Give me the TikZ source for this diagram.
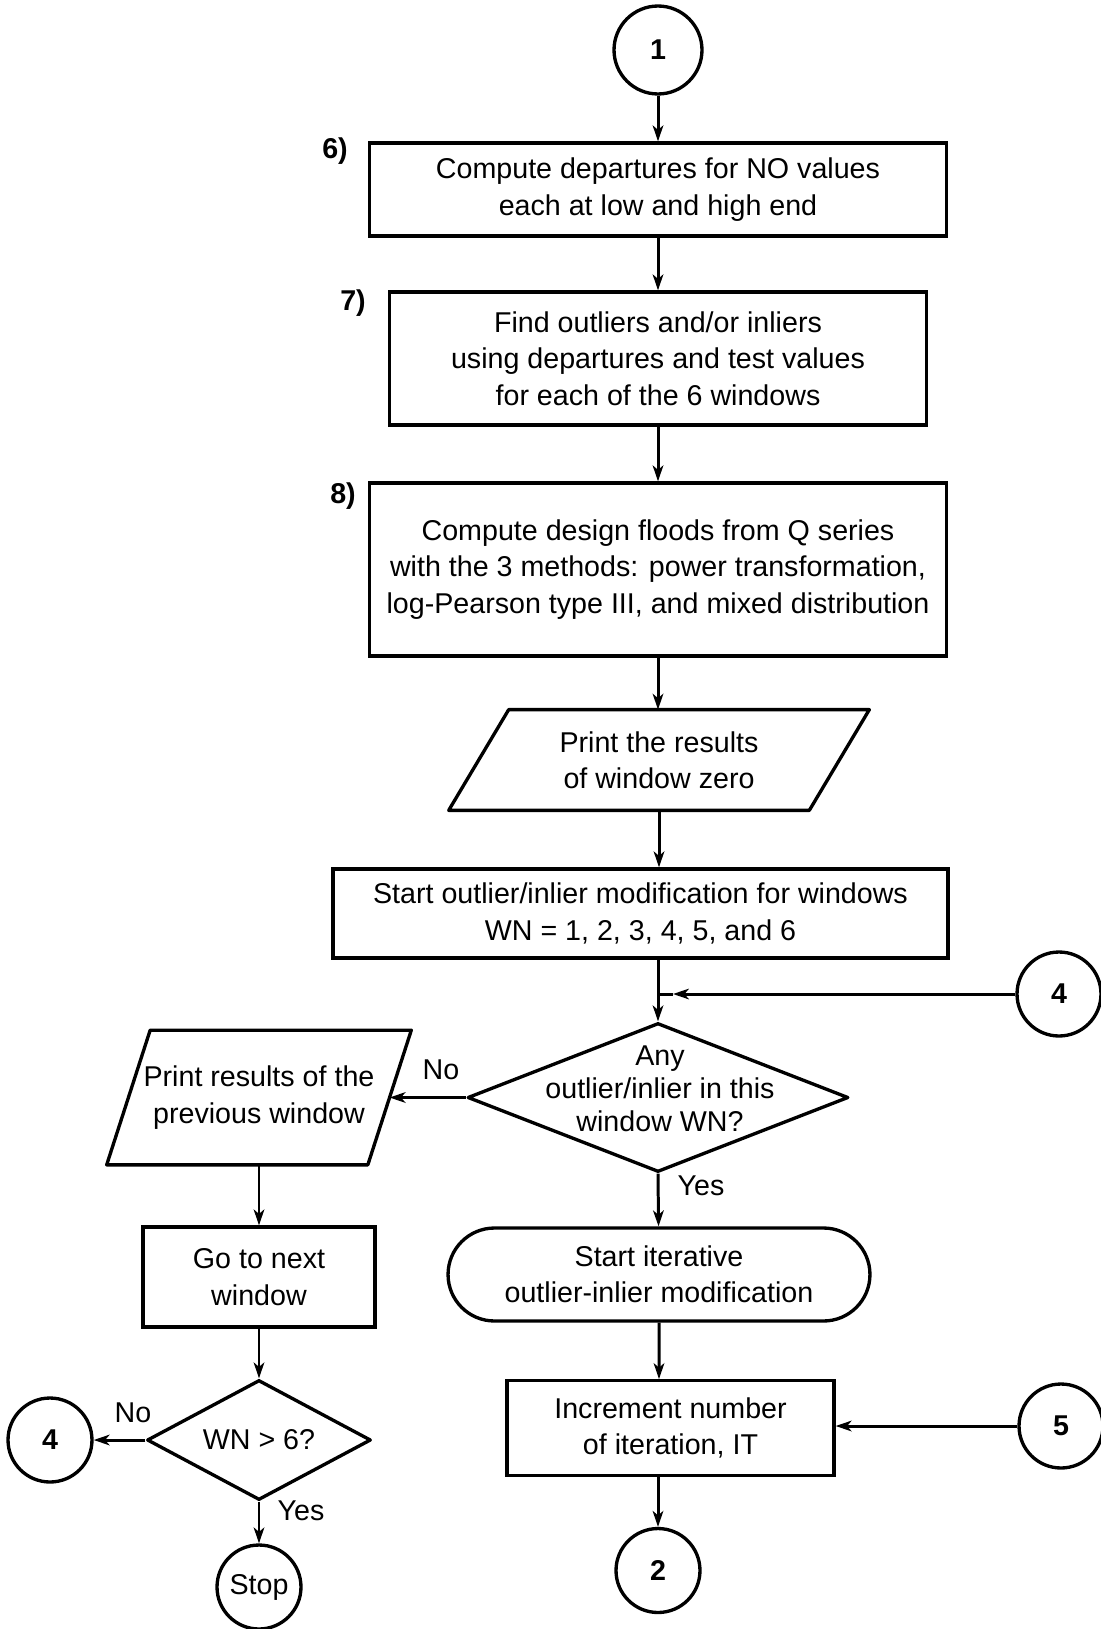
\documentclass[tikz,border=0pt]{standalone}
\usepackage{fontspec}
\setmainfont{Liberation Sans}
\usetikzlibrary{shapes.geometric,shapes.misc,arrows.meta}
\begin{document}
\begin{tikzpicture}[x=0.02cm,y=-0.02cm,
  every node/.style={font=\fontsize{16.3}{20.7}\selectfont, align=center, inner sep=0pt},
  stepbox/.style={draw, line width=1.9pt, rectangle},
  conn/.style={draw, line width=1.9pt, circle, minimum size=1.68cm},
  iotext/.style={rectangle},
  ioline/.style={line width=1.9pt, line join=round},
  decide/.style={draw, line width=1.9pt, diamond, line join=round},
  termbox/.style={draw, line width=1.9pt, rounded rectangle},
  flow/.style={line width=1.7pt, -{Stealth[length=9pt,width=6pt,inset=2.5pt]}},
  plain/.style={line width=1.7pt},
  numlbl/.style={font=\fontsize{16.3}{20.7}\selectfont\bfseries},
]
\useasboundingbox (0,0) rectangle (1100,1629);

% main column
\node[conn, minimum size=1.76cm] (c1) at (658,50) {\bfseries 1};
\node[stepbox, minimum width=11.54cm, minimum height=1.86cm] (b6) at (658,189.5)
  {Compute departures for NO values\\each at low and high end};
\node[numlbl] (n6) at (335,151) {6)};
\node[stepbox, minimum width=10.74cm, minimum height=2.66cm] (b7) at (658,358.5)
  {Find outliers and/or inliers\\using departures and test values\\for each of the 6 windows};
\node[numlbl] (n7) at (353,303) {7)};
\node[stepbox, minimum width=11.54cm, minimum height=3.46cm] (b8) at (658,569.5)
  {Compute design floods from Q series\\with the 3 methods: power transformation,\\log-Pearson type III, and mixed distribution};
\node[numlbl] (n8) at (343,496) {8)};

% output box: slanted sides drawn around the text node
\node[iotext, minimum width=8.4cm, minimum height=2.0cm] (p0) at (659,760)
  {Print the results\\of window zero};
\draw[ioline] ([xshift=1.2cm]p0.north west) -- (p0.north east)
  -- ([xshift=-1.2cm]p0.south east) -- (p0.south west) -- cycle;

\node[stepbox, minimum width=12.3cm, minimum height=1.78cm] (sw) at (640.5,913.5)
  {Start outlier/inlier modification for windows\\WN = 1, 2, 3, 4, 5, and 6};
\coordinate (j) at (658,994);
\node[conn] (c4r) at (1059,994) {\bfseries 4};
\node[decide, minimum width=7.62cm, minimum height=2.98cm] (d1) at (658,1097.5) {};
\node[font=\fontsize{16.3}{18.8}\selectfont] (d1t) at (660,1089)
  {Any\\outlier/inlier in this\\window WN?};
\node[termbox, minimum width=8.44cm, minimum height=1.86cm] (it) at (659,1274.5)
  {Start iterative\\outlier-inlier modification};
\node[stepbox, minimum width=6.54cm, minimum height=1.89cm] (inc) at (670.5,1428)
  {Increment number\\of iteration, IT};
\node[conn] (c5) at (1061,1426) {\bfseries 5};
\node[conn] (c2) at (658,1570.5) {\bfseries 2};

% left column
\node[iotext, minimum width=6.08cm, minimum height=2.68cm] (p1) at (259,1097.5)
  {Print results of the\\previous window};
\draw[ioline] ([xshift=0.87cm]p1.north west) -- (p1.north east)
  -- ([xshift=-0.87cm]p1.south east) -- (p1.south west) -- cycle;
\coordinate (p1in) at ([xshift=-0.435cm]p1.east);
\node[stepbox, minimum width=4.64cm, minimum height=2.0cm] (go) at (259,1277)
  {Go to next\\window};
\node[decide, minimum width=4.48cm, minimum height=2.4cm] (d2) at (259,1440) {};
\node (d2t) at (d2.center) {WN > 6?};
\node[conn] (c4l) at (50,1440) {\bfseries 4};
\node[conn] (stop) at (259,1587) {Stop};

% branch labels
\node (no1) at (441,1070) {No};
\node (yes1) at (701,1186) {Yes};
\node (no2) at (133,1413) {No};
\node (yes2) at (301,1511) {Yes};

% connectors
\draw[flow] (c1) -- (c1 |- b6.north);
\draw[flow] (b6) -- (b6 |- b7.north);
\draw[flow] (b7) -- (b7 |- b8.north);
\draw[flow] (b8) -- (b8 |- p0.north);
\draw[flow] (p0) -- (p0 |- sw.north);
\draw[plain] (sw.south -| j) -- (j);
\draw[flow] (j) -- (d1.north);
\coordinate (jtip) at ([xshift=0.3cm]j);
\draw[flow] (c4r) -- (jtip);
\draw[plain] (jtip) -- (j);
\draw[flow] (d1.south) -- (it);
\draw[flow] (it) -- (it |- inc.north);
\draw[flow] (c5) -- (c5 -| inc.east);
\draw[flow] (inc.south -| c2) -- (c2);
\draw[flow] (d1.west) -- (p1in);
\draw[flow] (p1) -- (go);
\draw[flow] (go) -- (d2.north);
\draw[flow] (d2.west) -- (c4l);
\draw[flow] (d2.south) -- (stop);
\end{tikzpicture}
\end{document}
